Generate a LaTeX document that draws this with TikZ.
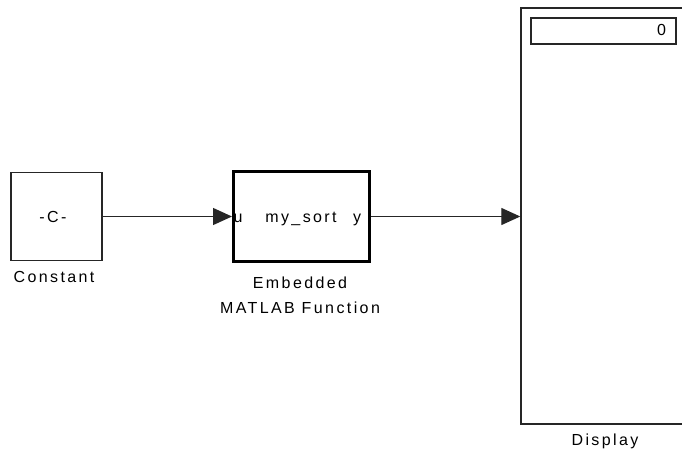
\documentclass[tikz,border=0pt]{standalone}
\usepackage{fontspec}
\setmainfont[LetterSpace=15]{Liberation Sans}
\usetikzlibrary{arrows.meta}
\begin{document}
\begin{tikzpicture}[x=1pt,y=-1pt,
  every node/.style={font=\fontsize{16}{18}\selectfont, inner sep=0pt, text=black},
  blk/.style={draw=black!85, line width=1.4pt, fill=white},
  thick blk/.style={draw=black, line width=3pt, fill=white},
  conn/.style={draw=black!85, line width=1.3pt, -{Triangle[length=19pt,width=17pt]}},
  lbl/.style={anchor=base}]
\clip (0,0) rectangle (682,452);
\useasboundingbox (0,0) rectangle (682,452);
% blocks
\node[blk, minimum width=91pt, minimum height=88pt] (const) at (56.5,216.5) {};
\node[lbl] (ctext) at (53,222) {-C-};
\node[lbl] (clabel) at (54,282.5) {Constant};
\node[thick blk, minimum width=136pt, minimum height=90pt] (emb) at (301.5,216.5) {};
\node[lbl] (uin) at (238,222.5) {u};
\node[lbl] (fname) at (301,222.5) {my\_sort};
\node[lbl] (yout) at (357,222.5) {y};
\node[lbl] (elabel1) at (300,288) {Embedded};
\node[lbl] (elabel2) at (300,313) {MATLAB Function};
\node[blk, minimum width=163pt, minimum height=416pt] (disp) at (602.5,216) {};
\node[blk, minimum width=145pt, minimum height=26pt] (dbox) at (603.5,31) {};
\node[lbl] (dval) at (661.5,36) {0};
\node[lbl] (dlabel) at (605,445) {Display};
% connectors
\draw[conn] (const.east) -- (emb.west);
\draw[conn] (emb.east) -- (emb.east -| disp.west);
\end{tikzpicture}
\end{document}
